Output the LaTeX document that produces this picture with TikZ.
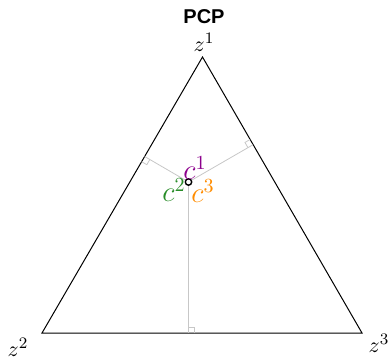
\documentclass[tikz,border=0pt]{standalone}
\usepackage{fontspec}
\newfontfamily\titlefont{Liberation Sans}
\usetikzlibrary{calc}
\definecolor{cpurple}{RGB}{140,0,140}
\definecolor{cgreen}{RGB}{40,140,40}
\definecolor{corange}{RGB}{255,140,0}
\tikzset{
    simplex/.style={draw=black, line width=0.5pt},
    footline/.style={draw=black!22, line width=0.4pt},
    vertexlbl/.style={inner sep=0pt, font=\fontsize{11}{13}\selectfont},
    pointlbl/.style={inner sep=0pt, font=\fontsize{14}{16}\selectfont},
    pointmark/.style={circle, draw=black, fill=white, line width=0.7pt,
        inner sep=0pt, minimum size=3.2pt}
}
\begin{document}
\begin{tikzpicture}[x=0.5pt, y=-0.5pt]
\useasboundingbox (0,0) rectangle (389,359);
\node[font=\titlefont\bfseries\fontsize{10}{12}\selectfont] (title) at (204,17) {PCP};
% simplex corners
\coordinate (z1) at (202.5,57);
\coordinate (z2) at (42,333);
\coordinate (z3) at (362,333);
\draw[simplex] (z1) -- (z2) -- (z3) -- cycle;
\node[vertexlbl] (lblz1) at (204,42) {$z^1$};
\node[vertexlbl] (lblz2) at (18,347) {$z^2$};
\node[vertexlbl] (lblz3) at (379,343) {$z^3$};
% point and its feet on the sides
\coordinate (p) at (188.5,182);
\foreach \a/\b/\n in {z2/z3/1, z1/z2/2, z3/z1/3}{
    \coordinate (f\n) at ($(\a)!(p)!(\b)$);
    \coordinate (u\n) at ($(f\n)!3pt!(\b)$);
    \coordinate (v\n) at ($(f\n)!3pt!(p)$);
    \draw[footline] (p) -- (f\n);
    \draw[footline] (u\n) -- ($(u\n)+(v\n)-(f\n)$) -- (v\n);
}
\node[pointmark] (pt) at (p) {};
\node[pointlbl, text=cpurple] (lblc1) at (195,168) {$c^1$};
\node[pointlbl, text=cgreen] (lblc2) at (174,190) {$c^2$};
\node[pointlbl, text=corange] (lblc3) at (203,191) {$c^3$};
\end{tikzpicture}
\end{document}
